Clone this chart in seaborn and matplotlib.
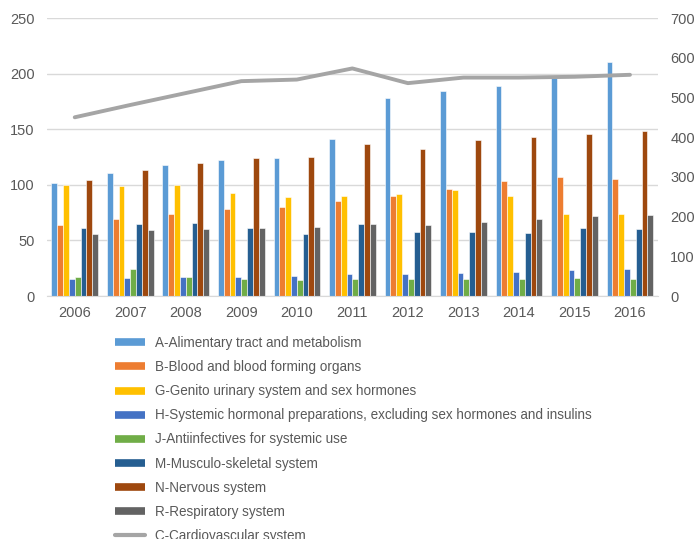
import numpy as np
import pandas as pd
import matplotlib
matplotlib.use('Agg')
import matplotlib.pyplot as plt
import seaborn as sns
from matplotlib.lines import Line2D

sns.set_style('white')
plt.rcParams['font.family'] = ['Liberation Sans', 'DejaVu Sans']
plt.rcParams['font.size'] = 10

YEARS = ['2006', '2007', '2008', '2009', '2010', '2011',
         '2012', '2013', '2014', '2015', '2016']

SERIES = [
    'A-Alimentary tract and metabolism',
    'B-Blood and blood forming organs',
    'G-Genito urinary system and sex hormones',
    'H-Systemic hormonal preparations, excluding sex hormones and insulins',
    'J-Antiinfectives for systemic use',
    'M-Musculo-skeletal system',
    'N-Nervous system',
    'R-Respiratory system',
]
LINE_NAME = 'C-Cardiovascular system'

alimentary = [102, 111, 118, 122, 124, 141, 178, 184, 189, 196, 210]
blood = [64, 69, 74, 78, 80, 85, 90, 96, 103, 107, 105]
genito = [100, 99, 100, 93, 89, 90, 92, 95, 90, 74, 74]
hormonal = [15, 16, 17, 17, 18, 20, 20, 21, 22, 23, 24]
antiinfect = [17, 24, 17, 15, 14, 15, 15, 15, 15, 16, 15]
musculo = [61, 65, 66, 61, 56, 65, 58, 58, 57, 61, 60]
nervous = [104, 113, 120, 124, 125, 137, 132, 140, 143, 146, 148]
respiratory = [56, 59, 60, 61, 62, 65, 64, 67, 69, 72, 73]
cardio = [450, 481, 511, 541, 545, 573, 536, 550, 550, 552, 557]

COLORS = ['#5B9BD5', '#ED7D31', '#FFC000', '#4472C4',
          '#70AD47', '#255E91', '#9E480E', '#636363']
LINE_COLOR = '#A5A5A5'
TEXT_COLOR = '#595959'

values = [alimentary, blood, genito, hormonal, antiinfect,
          musculo, nervous, respiratory]
df = pd.DataFrame(
    [(y, s, v[i]) for s, v in zip(SERIES, values) for i, y in enumerate(YEARS)],
    columns=['year', 'group', 'value'])

fig = plt.figure(figsize=(6.96, 5.39), dpi=100)
ax = fig.add_axes([0.0675, 0.4508, 0.8775, 0.5158])

sns.barplot(data=df, x='year', y='value', hue='group', hue_order=SERIES,
            palette=COLORS, width=0.84, saturation=1, ax=ax,
            edgecolor='white', linewidth=0.4, legend=False)
ax.set_xlim(-0.5, len(YEARS) - 0.5)
ax.set_ylim(0, 250)
ax.set_yticks(range(0, 251, 50))
ax.set_xlabel('')
ax.set_ylabel('')
ax.grid(True, axis='y', color='#D9D9D9', linewidth=1)
ax.set_axisbelow(True)
for side in ['top', 'right', 'left']:
    ax.spines[side].set_visible(False)
ax.spines['bottom'].set_color('#D9D9D9')
ax.tick_params(axis='both', length=0, colors=TEXT_COLOR, labelsize=10.5)
ax.tick_params(axis='x', pad=7)
ax.tick_params(axis='y', pad=9)

ax2 = ax.twinx()
sns.lineplot(x=np.arange(len(YEARS)), y=cardio, ax=ax2, color=LINE_COLOR,
             linewidth=2.8, solid_capstyle='round')
ax2.set_ylim(0, 700)
ax2.set_yticks(range(0, 701, 100))
for side in ['top', 'right', 'left', 'bottom']:
    ax2.spines[side].set_visible(False)
ax2.tick_params(axis='y', length=0, colors=TEXT_COLOR, labelsize=10.5, pad=9)

# legend sits under the plot; its last row runs off the bottom edge as in the source
handles = [Line2D([], [], color=c, linewidth=5.5, solid_capstyle='butt')
           for c in COLORS]
handles.append(Line2D([], [], color=LINE_COLOR, linewidth=3,
                      solid_capstyle='round'))
fig.legend(handles, SERIES + [LINE_NAME], loc='upper left',
           bbox_to_anchor=(0.155, 0.389), frameon=False, fontsize=9.75,
           labelcolor=TEXT_COLOR, handlelength=2.25, handletextpad=0.74,
           labelspacing=0.745, borderpad=0)

fig.savefig('out.png', dpi=100, facecolor='white')
